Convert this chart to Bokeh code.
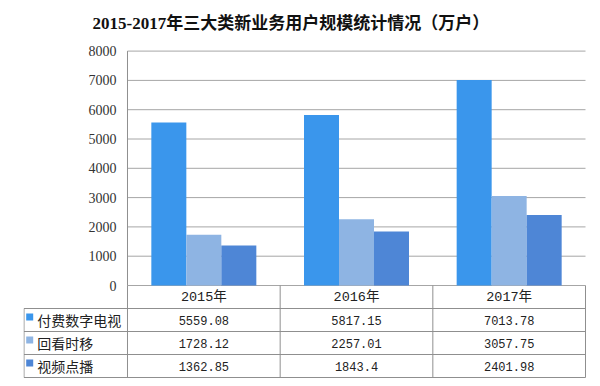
from bokeh.plotting import figure
from bokeh.models import Range1d
from bokeh.embed import file_html
from bokeh.resources import INLINE
from bokeh.core.properties import value
import numpy as np

# ---------------- data ----------------
title_text = "2015-2017年三大类新业务用户规模统计情况（万户）"
years = ["2015年", "2016年", "2017年"]
series_names = ["付费数字电视", "回看时移", "视频点播"]
pay_tv = [5559.08, 5817.15, 7013.78]
replay = [1728.12, 2257.01, 3057.75]
vod = [1362.85, 1843.4, 2401.98]
y_ticks = [0, 1000, 2000, 3000, 4000, 5000, 6000, 7000, 8000]

# ---------------- styles / layout ----------------
colors = ["#3A96EC", "#8EB4E3", "#4E86D6"]
series_values = [pay_tv, replay, vod]
n = len(years)
nrows = len(series_names)
U = 152.67                 # px per category
PXV = 234.4 / 8000         # px per value unit
ROW = 23.0                 # table row height (px)
BW = 35 / U                # bar width in category units
LABEL_COL = 104            # px width of the row-label column
GRID = "#A6A6A6"
LINE = "#8F8F8F"
TXT = "#222222"
CJK = "'Noto Sans CJK SC'"
SERIF_CJK = "'Liberation Serif', 'Noto Sans CJK SC'"
MONO_CJK = "'Liberation Mono', 'Noto Sans CJK SC'"

# frame: 563 x 378 px (title area included); value 0 sits 93 px above the frame bottom
FRAME_H = 378
ZERO_FROM_BOTTOM = 93
ZERO_FROM_TOP = FRAME_H - ZERO_FROM_BOTTOM
v_start = -ZERO_FROM_BOTTOM / PXV
v_end = v_start + FRAME_H / PXV
t_start = ZERO_FROM_BOTTOM / ROW          # table units (rows, downward)
t_end = t_start - FRAME_H / ROW
x_start = -LABEL_COL / U
x_end = n + 1 / U

p = figure(width=592, height=378, output_backend="svg", toolbar_location=None,
           x_range=Range1d(x_start, x_end), y_range=Range1d(v_start, v_end),
           x_axis_location=None, y_axis_location=None,
           min_border_left=23, min_border_right=6, min_border_top=0, min_border_bottom=0)
p.extra_y_ranges = {"table": Range1d(t_start, t_end)}
p.outline_line_color = None
p.grid.visible = False
p.background_fill_color = "white"
p.border_fill_color = "white"

# ---- title ----
p.text(x=[(92 - 127) / U], y=[-(ZERO_FROM_TOP - 23) / ROW], text=[title_text],
       text_font=value(SERIF_CJK), text_font_size="17px", text_font_style="bold",
       text_color="#111111", text_align="left", text_baseline="middle",
       y_range_name="table")

# ---- value gridlines + y tick labels ----
yt = np.array(y_ticks, dtype=float)
p.segment(x0=np.zeros(len(yt)), y0=yt, x1=np.full(len(yt), n), y1=yt,
          line_color=GRID, line_width=1)
p.segment(x0=[0], y0=[0], x1=[0], y1=[y_ticks[-1]], line_color=LINE, line_width=1)
p.text(x=np.full(len(yt), -11 / U), y=yt, text=[str(t) for t in y_ticks],
       text_font=value("Liberation Serif"), text_font_size="14px", text_color="#333333",
       text_align="right", text_baseline="middle")

# ---- bars ----
for k, (vals, col) in enumerate(zip(series_values, colors)):
    xs = np.arange(n) + 0.5 + (k - 1) * BW
    p.vbar(x=xs, top=vals, width=BW, color=col, line_color=None)

# ---- data table (rows: 0 = header, 1..nrows = series) ----
hy = np.arange(1, nrows + 2)
p.segment(x0=np.full(len(hy), x_start + 0.5 / U), y0=hy, x1=np.full(len(hy), n), y1=hy,
          line_color=LINE, line_width=1, y_range_name="table")
vx = np.arange(0, n + 1)
p.segment(x0=vx, y0=np.zeros(len(vx)), x1=vx, y1=np.full(len(vx), nrows + 1),
          line_color=LINE, line_width=1, y_range_name="table")
p.segment(x0=[x_start + 0.5 / U], y0=[1], x1=[x_start + 0.5 / U], y1=[nrows + 1],
          line_color=LINE, line_width=1, y_range_name="table")

p.text(x=np.arange(n) + 0.5, y=np.full(n, 0.5), text=years,
       text_font=value(MONO_CJK), text_font_size="13.5px", text_color=TXT,
       text_align="center", text_baseline="middle", y_range_name="table")

ry = np.arange(nrows) + 1.5
p.rect(x=np.full(nrows, x_start + 6.2 / U), y=ry - 3 / ROW, width=7, height=7,
       width_units="screen", height_units="screen", fill_color=colors, line_color=None,
       y_range_name="table")
p.text(x=np.full(nrows, x_start + 13.7 / U), y=ry, text=series_names,
       text_font=value(CJK), text_font_size="14px", text_color=TXT,
       text_align="left", text_baseline="middle", y_range_name="table")

vx_list, vy_list, vt_list = [], [], []
for r, vals in enumerate(series_values):
    for c, v in enumerate(vals):
        vx_list.append(c + 0.5)
        vy_list.append(r + 1.5)
        vt_list.append(str(v))
p.text(x=vx_list, y=vy_list, text=vt_list,
       text_font=value(MONO_CJK), text_font_size="12px", text_color=TXT,
       text_align="center", text_baseline="middle", y_range_name="table")

open("out.html", "w").write(file_html(p, INLINE))
